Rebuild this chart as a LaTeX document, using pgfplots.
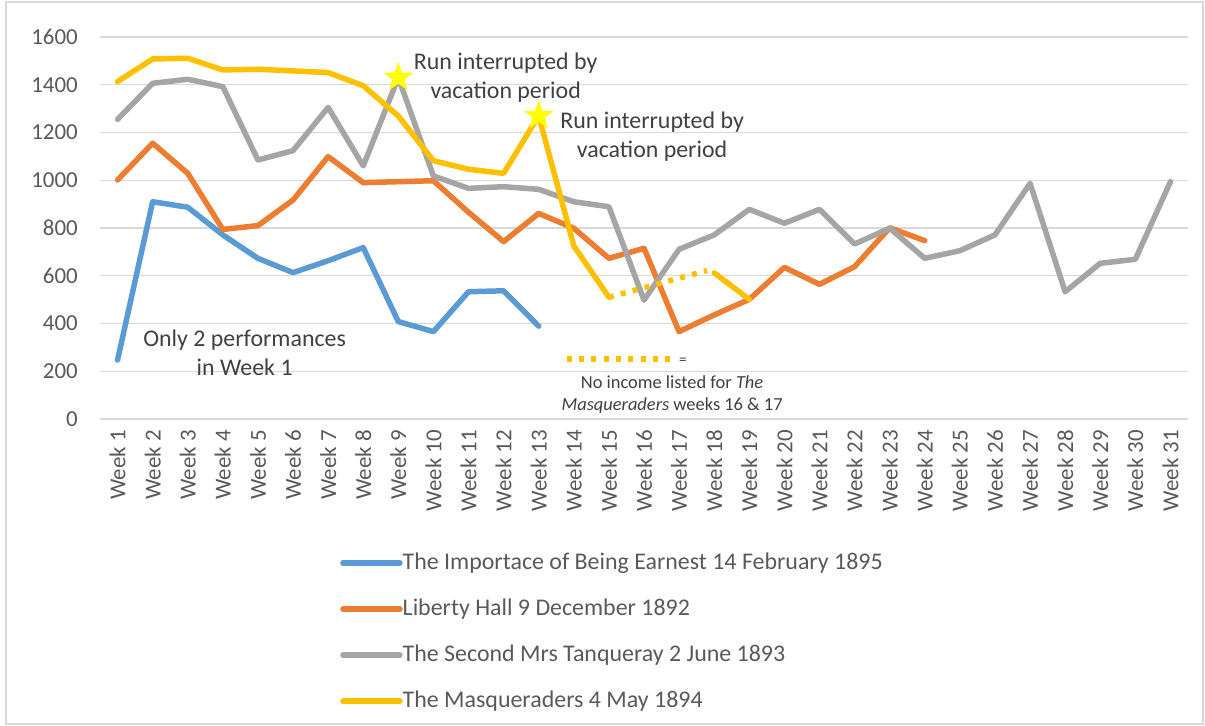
\documentclass[border=0pt]{standalone}
\usepackage{fontspec}
\setmainfont{Carlito}
\usepackage{pgfplots}
\pgfplotsset{compat=1.18}

\definecolor{cblue}{HTML}{5B9BD5}
\definecolor{corange}{HTML}{ED7D31}
\definecolor{cgray}{HTML}{A5A5A5}
\definecolor{cgold}{HTML}{FFC000}
\definecolor{cstar}{HTML}{FFFF00}
\definecolor{cgrid}{HTML}{D9D9D9}
\definecolor{ctick}{HTML}{595959}
\definecolor{cnote}{HTML}{404040}

% filled five-point star
\pgfdeclareplotmark{fstar}{%
  \pgfpathmoveto{\pgfpointpolar{90}{\pgfplotmarksize}}%
  \pgfpathlineto{\pgfpointpolar{126}{0.4\pgfplotmarksize}}%
  \pgfpathlineto{\pgfpointpolar{162}{\pgfplotmarksize}}%
  \pgfpathlineto{\pgfpointpolar{198}{0.4\pgfplotmarksize}}%
  \pgfpathlineto{\pgfpointpolar{234}{\pgfplotmarksize}}%
  \pgfpathlineto{\pgfpointpolar{270}{0.4\pgfplotmarksize}}%
  \pgfpathlineto{\pgfpointpolar{306}{\pgfplotmarksize}}%
  \pgfpathlineto{\pgfpointpolar{342}{0.4\pgfplotmarksize}}%
  \pgfpathlineto{\pgfpointpolar{18}{\pgfplotmarksize}}%
  \pgfpathlineto{\pgfpointpolar{54}{0.4\pgfplotmarksize}}%
  \pgfpathclose\pgfusepathqfillstroke}

\begin{document}
\begin{tikzpicture}
\useasboundingbox (0bp,0bp) rectangle (1205bp,726bp);
\draw[cgrid, line width=1.5bp] (6bp,2bp) rectangle (1203bp,724bp);
\begin{axis}[
  at={(100bp,307bp)}, anchor=south west,
  scale only axis, width=1088bp, height=382bp,
  xmin=0.5, xmax=31.5, ymin=0, ymax=1600,
  clip=false,
  axis line style={draw=none},
  tick style={draw=none},
  ymajorgrids, grid style={cgrid, line width=1.3bp},
  ytick={0,200,...,1600},
  xtick={1,...,31},
  xticklabels={Week 1,Week 2,Week 3,Week 4,Week 5,Week 6,Week 7,Week 8,Week 9,Week 10,
    Week 11,Week 12,Week 13,Week 14,Week 15,Week 16,Week 17,Week 18,Week 19,Week 20,
    Week 21,Week 22,Week 23,Week 24,Week 25,Week 26,Week 27,Week 28,Week 29,Week 30,Week 31},
  /pgf/number format/assume math mode=true,
  /pgf/number format/set thousands separator={},
  yticklabel style={font=\fontsize{23}{27}\selectfont, text=ctick, anchor=east, inner sep=0pt, xshift=-22bp},
  xticklabel style={font=\fontsize{23}{27}\selectfont, text=ctick, yshift=-11bp, rotate=90, anchor=east, inner sep=0pt},
  every axis plot/.append style={line width=5.5bp, line join=round, line cap=round},
  legend cell align=left,
  legend image code/.code={\draw[#1, line width=5.5bp] (2.75bp,0bp) -- (45.25bp,0bp); \path (0bp,0bp) -- (57bp,0bp);},
  legend style={at={(axis description cs:0.2206,-0.348)}, anchor=north west,
    draw=none, fill=none, inner sep=0pt, column sep=0pt, row sep=24bp,
    font=\fontsize{24}{29}\selectfont, text=ctick,
    nodes={inner sep=0pt, text height=17bp, text depth=5bp}},
]
% The Importance of Being Earnest
\addplot[cblue] coordinates {
  (1,247) (2,910) (3,887) (4,771) (5,673) (6,613) (7,663) (8,718) (9,408) (10,366)
  (11,533) (12,537) (13,389)
};
\addlegendentry{The Importace of Being Earnest 14 February 1895}

% Liberty Hall
\addplot[corange] coordinates {
  (1,1001) (2,1155) (3,1029) (4,794) (5,810) (6,917) (7,1099) (8,990) (9,994) (10,998)
  (11,866) (12,743) (13,861) (14,799) (15,673) (16,715) (17,366) (18,436) (19,501) (20,635)
  (21,564) (22,638) (23,801) (24,747)
};
\addlegendentry{Liberty Hall 9 December 1892}

% The Second Mrs Tanqueray
\addplot[cgray] coordinates {
  (1,1255) (2,1406) (3,1423) (4,1392) (5,1085) (6,1124) (7,1305) (8,1060) (9,1430) (10,1018)
  (11,966) (12,973) (13,962) (14,910) (15,889) (16,498) (17,711) (18,771) (19,878) (20,820)
  (21,878) (22,733) (23,799) (24,673) (25,705) (26,771) (27,987) (28,533) (29,652) (30,669)
  (31,994)
};
\addlegendentry{The Second Mrs Tanqueray 2 June 1893}

% The Masqueraders
\addplot[cgold] coordinates {
  (1,1413) (2,1508) (3,1511) (4,1462) (5,1465) (6,1458) (7,1451) (8,1396) (9,1269) (10,1082)
  (11,1046) (12,1029) (13,1270) (14,725) (15,510)
};
\addlegendentry{The Masqueraders 4 May 1894}
\addplot[cgold, forget plot] coordinates {(18,612) (19,501)};
\addplot[cgold, forget plot, line cap=butt, dash pattern=on 5bp off 7.3bp] coordinates {(15,510) (17.8,622)};

% stars
\addplot[only marks, forget plot, mark=fstar, mark size=14.7bp,
  mark options={fill=cstar, draw=cstar, line width=0.5bp}] coordinates {(9,1430) (13,1270)};

% notes
\node[font=\fontsize{24}{29}\selectfont, text=cnote, align=center] at (axis cs:12.06,1430)
  {Run interrupted by\\vacation period};
\node[font=\fontsize{24}{29}\selectfont, text=cnote, align=center] at (axis cs:16.23,1181)
  {Run interrupted by\\vacation period};
\node[font=\fontsize{24}{29}\selectfont, text=cnote, align=center] at (axis cs:4.62,278)
  {Only 2 performances\\in Week 1};
\draw[cgold, line width=5.5bp, dash pattern=on 5bp off 7.3bp] (axis cs:13.8,251) -- (axis cs:16.74,251);
\node[font=\fontsize{15}{18}\selectfont, text=cnote] at (axis cs:17.11,241) {=};
\node[font=\fontsize{18.5}{22}\selectfont, text=cnote, align=center] at (axis cs:16.80,103)
  {No income listed for \textit{The}\\\textit{Masqueraders} weeks 16 \& 17};
\end{axis}
\end{tikzpicture}
\end{document}
